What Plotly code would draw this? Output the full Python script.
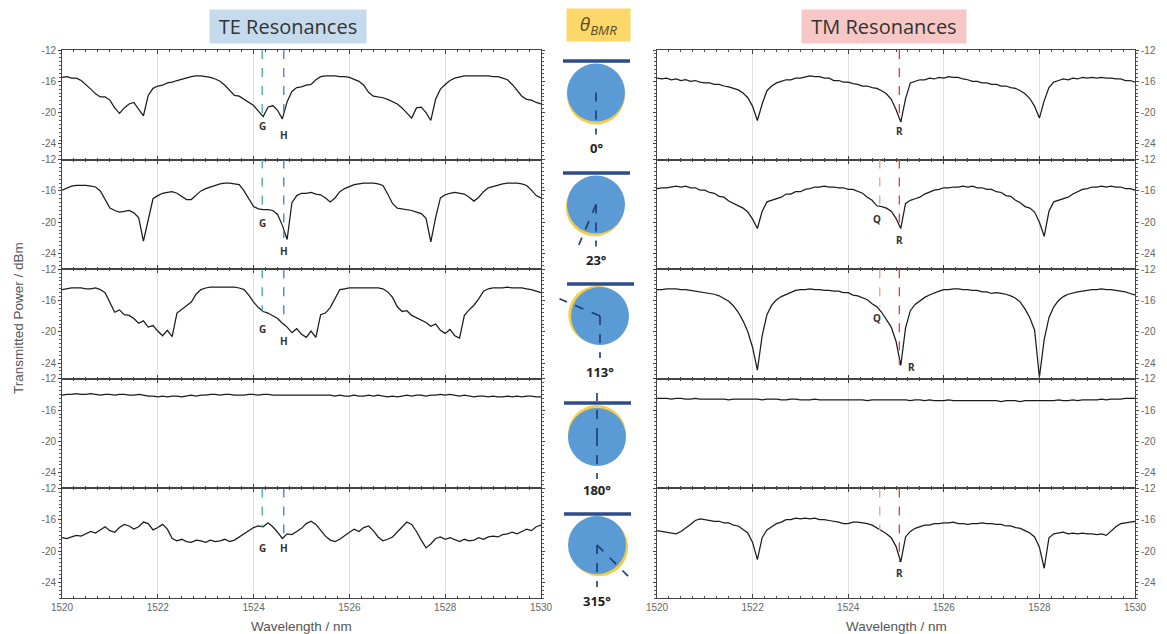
import math
import plotly.graph_objects as go

# ---------------- data ----------------
wavelength = [round(1520 + 0.1 * i, 1) for i in range(101)]

te_0 = [-15.5, -15.4, -15.6, -15.6, -15.9, -16.4, -17.0, -17.6, -18.0, -18.0,
        -18.4, -19.4, -20.1, -19.4, -18.9, -18.7, -19.5, -20.4, -17.8, -16.9,
        -16.6, -16.5, -16.2, -16.1, -15.9, -15.7, -15.5, -15.4, -15.3, -15.3,
        -15.4, -15.5, -15.7, -16.0, -16.5, -17.2, -17.8, -17.9, -18.3, -18.6,
        -19.1, -19.8, -20.5, -19.3, -19.1, -19.7, -20.8, -18.6, -17.3, -16.8,
        -16.7, -16.5, -16.4, -15.8, -15.4, -15.3, -15.3, -15.3, -15.4, -15.4,
        -15.5, -15.7, -16.0, -16.5, -17.4, -17.9, -18.0, -18.1, -18.3, -18.6,
        -18.9, -19.4, -20.1, -20.7, -19.4, -19.3, -20.0, -21.0, -18.3, -17.0,
        -16.4, -15.9, -15.6, -15.4, -15.3, -15.3, -15.3, -15.3, -15.3, -15.3,
        -15.4, -15.4, -15.6, -15.8, -16.4, -17.2, -17.9, -18.3, -18.4, -18.7,
        -18.9]

te_23 = [-15.9, -15.6, -15.4, -15.3, -15.3, -15.3, -15.4, -15.5, -16.0, -17.2,
         -18.2, -18.5, -18.7, -18.6, -18.5, -18.8, -19.4, -22.4, -19.7, -17.0,
         -16.6, -16.3, -16.2, -16.1, -16.3, -16.7, -17.1, -17.1, -16.5, -16.0,
         -15.7, -15.5, -15.3, -15.1, -15.0, -15.0, -15.1, -15.2, -16.0, -17.0,
         -18.0, -18.3, -18.4, -18.4, -18.5, -19.0, -20.4, -22.2, -17.5, -16.6,
         -16.3, -16.3, -16.2, -16.4, -16.5, -16.9, -17.4, -16.9, -16.1, -15.7,
         -15.4, -15.2, -15.1, -15.0, -15.0, -15.0, -15.1, -15.3, -16.4, -17.6,
         -18.2, -18.3, -18.4, -18.5, -18.7, -18.9, -19.5, -22.5, -19.4, -16.9,
         -16.5, -16.3, -16.2, -16.3, -16.4, -16.8, -17.3, -16.8, -16.1, -15.6,
         -15.4, -15.2, -15.1, -15.0, -15.0, -15.0, -15.1, -15.3, -15.9, -16.6,
         -16.9]

te_113 = [-14.6, -14.5, -14.4, -14.4, -14.4, -14.5, -14.5, -14.4, -14.6, -15.0,
          -16.2, -17.5, -17.2, -17.8, -17.9, -18.3, -18.9, -18.6, -19.4, -19.2,
          -19.9, -20.5, -19.8, -20.6, -17.6, -17.1, -16.6, -16.2, -15.2, -14.6,
          -14.4, -14.3, -14.3, -14.3, -14.3, -14.3, -14.3, -14.4, -14.6, -15.3,
          -16.2, -16.9, -17.4, -17.6, -17.9, -18.3, -18.9, -19.4, -20.1, -19.6,
          -20.3, -20.7, -19.9, -20.7, -17.8, -17.6, -16.9, -15.7, -14.6, -14.5,
          -14.4, -14.4, -14.4, -14.4, -14.4, -14.4, -14.4, -14.5, -14.9, -15.6,
          -16.8, -17.4, -17.3, -17.9, -18.2, -18.6, -18.8, -19.3, -19.0, -19.8,
          -20.2, -19.7, -20.5, -20.8, -17.9, -17.2, -16.6, -15.8, -14.8, -14.5,
          -14.4, -14.4, -14.4, -14.3, -14.4, -14.4, -14.4, -14.5, -14.6, -14.8,
          -15.0]

te_180 = [-14.1, -14.0, -14.0, -13.9, -14.0, -14.0, -13.9, -14.0, -14.1, -14.0,
          -14.0, -14.1, -14.0, -14.0, -14.1, -14.1, -14.0, -14.1, -14.2, -14.2,
          -14.3, -14.2, -14.3, -14.2, -14.2, -14.3, -14.2, -14.1, -14.2, -14.1,
          -14.1, -14.0, -14.0, -14.1, -14.0, -14.0, -14.1, -14.1, -14.1, -14.0,
          -14.0, -14.1, -14.0, -14.0, -14.1, -14.1, -14.1, -14.1, -14.1, -14.1,
          -14.1, -14.1, -14.1, -14.1, -14.1, -14.1, -14.1, -14.2, -14.1, -14.2,
          -14.2, -14.1, -14.2, -14.2, -14.1, -14.2, -14.1, -14.2, -14.3, -14.2,
          -14.3, -14.2, -14.1, -14.2, -14.1, -14.1, -14.2, -14.1, -14.1, -14.0,
          -14.1, -14.0, -14.1, -14.2, -14.1, -14.2, -14.3, -14.2, -14.2, -14.3,
          -14.2, -14.3, -14.3, -14.2, -14.3, -14.2, -14.3, -14.2, -14.2, -14.3,
          -14.3]

te_315 = [-18.3, -18.4, -18.2, -18.0, -18.1, -17.8, -17.5, -17.7, -17.3, -16.9,
          -17.4, -17.6, -17.0, -16.6, -16.8, -17.2, -16.9, -16.3, -16.5, -17.3,
          -17.0, -16.6, -17.2, -18.4, -18.7, -18.5, -18.8, -18.9, -18.6, -18.7,
          -18.9, -18.6, -18.8, -18.7, -18.5, -18.8, -18.6, -18.2, -17.9, -17.4,
          -17.0, -16.8, -16.9, -16.4, -16.9, -17.6, -18.4, -17.8, -17.9, -17.5,
          -17.1, -16.5, -16.2, -16.6, -17.4, -18.1, -18.6, -18.8, -18.5, -18.0,
          -17.6, -17.2, -17.5, -17.0, -16.8, -17.4, -18.2, -18.7, -18.5, -18.2,
          -17.6, -16.9, -16.3, -16.6, -17.5, -18.6, -19.6, -19.1, -18.4, -18.2,
          -18.5, -18.3, -18.6, -18.8, -18.5, -18.7, -18.6, -18.3, -18.5, -18.2,
          -18.1, -18.2, -17.9, -17.8, -17.6, -17.8, -17.5, -17.2, -17.4, -16.9,
          -16.7]

tm_0 = [-15.6, -15.7, -15.6, -15.8, -15.7, -15.9, -15.8, -16.0, -15.9, -16.1,
        -16.2, -16.2, -16.4, -16.4, -16.6, -16.7, -16.9, -17.1, -17.5, -18.1,
        -19.2, -21.0, -18.9, -17.2, -16.6, -16.2, -16.0, -15.8, -15.8, -15.6,
        -15.6, -15.4, -15.3, -15.4, -15.4, -15.6, -15.6, -15.9, -15.9, -16.1,
        -16.1, -16.3, -16.4, -16.6, -16.6, -16.8, -16.9, -17.2, -17.6, -18.3,
        -19.6, -21.2, -18.2, -16.2, -16.0, -15.8, -15.8, -15.6, -15.7, -15.5,
        -15.6, -15.4, -15.5, -15.5, -15.7, -15.8, -16.0, -16.0, -16.2, -16.2,
        -16.4, -16.4, -16.6, -16.6, -16.8, -16.9, -17.2, -17.6, -18.2, -19.2,
        -20.7, -18.5, -16.8, -16.1, -15.9, -15.7, -15.8, -15.6, -15.7, -15.5,
        -15.6, -15.5, -15.6, -15.5, -15.6, -15.6, -15.7, -15.7, -15.9, -15.9,
        -16.1]

tm_23 = [-15.7, -15.6, -15.6, -15.5, -15.4, -15.5, -15.4, -15.6, -15.6, -15.9,
         -15.9, -16.2, -16.3, -16.7, -16.8, -17.3, -17.6, -18.0, -18.2, -18.7,
         -19.6, -20.8, -18.6, -17.4, -17.2, -17.0, -16.8, -16.4, -16.4, -16.1,
         -16.1, -15.8, -15.7, -15.5, -15.5, -15.4, -15.5, -15.5, -15.6, -15.6,
         -15.8, -15.8, -16.1, -16.3, -16.8, -17.2, -17.9, -18.0, -18.2, -18.6,
         -19.5, -20.8, -17.6, -17.2, -17.0, -16.8, -16.4, -16.2, -15.9, -15.8,
         -15.6, -15.6, -15.5, -15.5, -15.4, -15.5, -15.4, -15.6, -15.6, -15.8,
         -15.8, -16.1, -16.2, -16.6, -16.7, -17.2, -17.5, -18.0, -18.2, -18.7,
         -20.0, -21.8, -18.6, -17.4, -17.2, -17.0, -16.8, -16.4, -16.1, -15.8,
         -15.7, -15.5, -15.5, -15.4, -15.5, -15.4, -15.5, -15.5, -15.7, -15.7,
         -15.9]

tm_113 = [-14.6, -14.6, -14.5, -14.5, -14.5, -14.6, -14.6, -14.7, -14.8, -14.9,
          -15.0, -15.1, -15.2, -15.4, -15.7, -16.1, -16.7, -17.5, -18.6, -20.0,
          -22.0, -24.9, -20.5, -17.8, -16.6, -15.9, -15.5, -15.2, -14.9, -14.7,
          -14.6, -14.6, -14.5, -14.6, -14.6, -14.7, -14.7, -14.8, -14.8, -15.0,
          -15.0, -15.3, -15.4, -15.7, -15.9, -16.4, -16.8, -17.5, -18.4, -19.4,
          -21.2, -24.3, -19.5, -17.3, -16.5, -16.0, -15.6, -15.3, -15.0, -14.8,
          -14.6, -14.6, -14.5, -14.5, -14.6, -14.6, -14.7, -14.7, -14.9, -14.9,
          -15.1, -15.0, -15.1, -15.2, -15.4, -15.7, -16.2, -17.1, -18.2, -19.8,
          -25.8, -21.0, -18.2, -16.8, -16.0, -15.5, -15.2, -15.0, -14.9, -14.8,
          -14.7, -14.6, -14.6, -14.5, -14.6, -14.6, -14.7, -14.8, -14.9, -15.1,
          -15.3]

tm_180 = [-14.5, -14.5, -14.5, -14.6, -14.5, -14.5, -14.6, -14.6, -14.5, -14.6,
          -14.6, -14.6, -14.6, -14.6, -14.6, -14.7, -14.6, -14.6, -14.6, -14.6,
          -14.6, -14.6, -14.7, -14.6, -14.6, -14.6, -14.7, -14.7, -14.6, -14.6,
          -14.7, -14.7, -14.7, -14.6, -14.7, -14.7, -14.7, -14.7, -14.7, -14.7,
          -14.7, -14.7, -14.7, -14.7, -14.8, -14.7, -14.7, -14.7, -14.7, -14.7,
          -14.7, -14.7, -14.7, -14.8, -14.7, -14.7, -14.8, -14.7, -14.8, -14.8,
          -14.8, -14.7, -14.8, -14.8, -14.8, -14.8, -14.8, -14.8, -14.8, -14.8,
          -14.8, -14.8, -14.9, -14.8, -14.8, -14.8, -14.9, -14.8, -14.8, -14.8,
          -14.8, -14.8, -14.8, -14.8, -14.7, -14.8, -14.8, -14.7, -14.8, -14.7,
          -14.7, -14.7, -14.7, -14.6, -14.7, -14.6, -14.6, -14.6, -14.5, -14.5,
          -14.5]

tm_315 = [-17.4, -17.5, -17.6, -17.7, -17.8, -17.5, -17.1, -16.6, -16.1, -15.9,
          -16.0, -16.1, -16.2, -16.2, -16.4, -16.4, -16.7, -16.8, -17.2, -17.7,
          -18.9, -21.1, -18.3, -17.3, -16.9, -16.5, -16.3, -16.0, -16.0, -15.8,
          -15.9, -15.8, -15.9, -15.8, -16.0, -16.0, -16.1, -16.2, -16.3, -16.5,
          -16.5, -16.3, -16.3, -16.4, -16.5, -16.7, -17.0, -17.4, -17.8, -18.3,
          -19.4, -21.4, -18.2, -17.5, -17.1, -16.9, -16.7, -16.7, -16.5, -16.5,
          -16.4, -16.4, -16.3, -16.5, -16.5, -16.6, -16.5, -16.5, -16.4, -16.5,
          -16.5, -16.6, -16.6, -16.8, -16.8, -17.0, -17.1, -17.4, -17.7, -18.2,
          -19.5, -22.2, -18.3, -17.8, -17.7, -17.6, -17.8, -17.7, -17.8, -17.7,
          -17.8, -17.8, -17.9, -17.8, -18.0, -17.4, -16.9, -16.5, -16.4, -16.3,
          -16.2]

te_series = [te_0, te_23, te_113, te_180, te_315]
tm_series = [tm_0, tm_23, tm_113, tm_180, tm_315]

angles = [0, 23, 113, 180, 315]
angle_labels = ["0°", "23°", "113°", "180°", "315°"]

y_ticks = [-12, -16, -20, -24]
y_tick_text = ["-12", "-16", "-20", "-24"]
x_ticks = [1520, 1522, 1524, 1526, 1528, 1530]

# resonance markers (wavelength, line end, label position)
te_G_wl, te_H_wl = 1524.18, 1524.63
te_G_end = [-20.5, -18.4, -17.5, None, -17.0]
te_H_end = [-20.8, -22.0, -19.0, None, -18.0]
te_G_lab = [-21.7, -20.1, -19.6, None, -19.6]
te_H_lab = [-22.9, -23.7, -21.2, None, -19.6]

tm_Q_wl, tm_R_wl = 1524.66, 1525.07
tm_Q_end = [None, -18.0, -16.8, None, -17.3]
tm_R_end = [-21.2, -20.8, -24.2, None, -21.4]
tm_Q_lab = [None, -19.6, -18.2, None, None]
tm_R_lab = [-22.3, -22.3, -24.5, None, -22.8]
tm_R_lab_x = [1525.07, 1525.07, 1525.32, None, 1525.07]

# ---------------- layout geometry (screen pixels) ----------------
OFF = 8                      # page body margin of the html page
W, H = 1167 - OFF, 634 - OFF  # figure size
LEFT = (62, 541)
RIGHT = (657, 1135)
TOP, PH = 50, 109.6


def px(x):
    return (x - OFF) / W


def py(y):
    return 1 - (y - OFF) / H


def note(x, y, text, font, **kw):
    d = dict(xref="paper", yref="paper", x=px(x), y=py(y), text=text, showarrow=False,
             xanchor="center", yanchor="middle", font=font)
    d.update(kw)
    return d


fig = go.Figure()
layout = dict(
    width=W, height=H, margin=dict(l=0, r=0, t=0, b=0, autoexpand=False),
    paper_bgcolor="white", plot_bgcolor="white", showlegend=False,
)

tick_font = dict(family="Liberation Sans, Arial, sans-serif", size=10, color="#666")
shapes = []
annotations = []

for i in range(5):
    y0 = py(TOP + (i + 1) * PH)
    y1 = py(TOP + i * PH)
    for side, (xl, xr), series in (("L", LEFT, te_series), ("R", RIGHT, tm_series)):
        k = 2 * i + (1 if side == "L" else 2)
        xn = "x" if k == 1 else f"x{k}"
        yn = "y" if k == 1 else f"y{k}"
        xkey = "xaxis" if k == 1 else f"xaxis{k}"
        ykey = "yaxis" if k == 1 else f"yaxis{k}"
        layout[xkey] = dict(
            domain=[px(xl), px(xr)], range=[1520, 1530], anchor=yn, automargin=False,
            showline=True, linecolor="#444", linewidth=1, mirror="ticks",
            ticks="inside", ticklen=4, tickcolor="#444", tickvals=x_ticks,
            showgrid=True, gridcolor="#e2e2e2", gridwidth=1, zeroline=False,
            showticklabels=(i == 4), tickfont=tick_font,
            minor=dict(dtick=0.25, tick0=1520, ticks="inside", ticklen=2,
                       tickcolor="#444", showgrid=False),
        )
        layout[ykey] = dict(
            domain=[y0, y1], range=[-26, -12], anchor=xn, automargin=False,
            side="left" if side == "L" else "right",
            showline=True, linecolor="#444", linewidth=1, mirror="ticks",
            ticks="outside", ticklen=3, tickcolor="#444",
            tickvals=y_ticks, ticktext=y_tick_text, tickfont=tick_font,
            showgrid=False, zeroline=False,
            minor=dict(dtick=0.5, tick0=-12, ticks="outside", ticklen=2,
                       tickcolor="#555", showgrid=False),
        )
        fig.add_trace(go.Scatter(
            x=wavelength, y=series[i], mode="lines",
            line=dict(color="#1c1c1c", width=1.25),
            xaxis=xn, yaxis=yn, hoverinfo="skip",
        ))

        lab_font = dict(family="Noto Sans, Arial", size=10, color="#333")
        if side == "L" and te_G_end[i] is not None:
            for wl, end, lab, txt, col in ((te_G_wl, te_G_end[i], te_G_lab[i], "G", "#45a8a2"),
                                           (te_H_wl, te_H_end[i], te_H_lab[i], "H", "#3a7cc6")):
                shapes.append(dict(type="line", xref=xn, yref=yn, x0=wl, x1=wl, y0=-12, y1=end,
                                   line=dict(color=col, width=1.3, dash="dash")))
                annotations.append(dict(xref=xn, yref=yn, x=wl, y=lab, text=f"<b>{txt}</b>",
                                        showarrow=False, xanchor="center", yanchor="middle",
                                        font=lab_font))
        if side == "R" and tm_R_end[i] is not None:
            if tm_Q_end[i] is not None:
                shapes.append(dict(type="line", xref=xn, yref=yn, x0=tm_Q_wl, x1=tm_Q_wl, y0=-12,
                                   y1=tm_Q_end[i], line=dict(color="#f4a07c", width=1.3, dash="dash")))
                if tm_Q_lab[i] is not None:
                    annotations.append(dict(xref=xn, yref=yn, x=tm_Q_wl - 0.05, y=tm_Q_lab[i],
                                            text="<b>Q</b>", showarrow=False, xanchor="center",
                                            yanchor="middle", font=lab_font))
            shapes.append(dict(type="line", xref=xn, yref=yn, x0=tm_R_wl, x1=tm_R_wl, y0=-12,
                               y1=tm_R_end[i], line=dict(color="#e8363c", width=1.3, dash="dash")))
            annotations.append(dict(xref=xn, yref=yn, x=tm_R_lab_x[i], y=tm_R_lab[i],
                                    text="<b>R</b>", showarrow=False, xanchor="center",
                                    yanchor="middle", font=lab_font))

# axis titles
axis_font = dict(family="Liberation Sans, Arial", size=13.5, color="#555")
for cx in ((LEFT[0] + LEFT[1]) / 2, (RIGHT[0] + RIGHT[1]) / 2):
    annotations.append(note(cx, 626, "Wavelength / nm", axis_font))
annotations.append(note(18, 318, "Transmitted Power / dBm", axis_font, textangle=-90))

# ---------------- middle diagrams ----------------
diag_cx = [596, 596, 600, 597, 597]
diag_cy = [92.5, 204.5, 316, 437, 545]
diag_line_y = [61, 173, 284, 403, 514]
diag_label_y = [148, 260, 372, 490, 601]
R_C = 29

for i, ang in enumerate(angles):
    cx, cy = diag_cx[i], diag_cy[i]
    dx, dy = -math.sin(math.radians(ang)), math.cos(math.radians(ang))
    ox, oy = cx + 3 * dx, cy + 3 * dy
    shapes.append(dict(type="circle", xref="paper", yref="paper",
                       x0=px(ox - R_C), x1=px(ox + R_C), y0=py(oy + R_C), y1=py(oy - R_C),
                       fillcolor="#f5cd4a", line=dict(width=0), layer="above"))
    shapes.append(dict(type="circle", xref="paper", yref="paper",
                       x0=px(cx - R_C), x1=px(cx + R_C), y0=py(cy + R_C), y1=py(cy - R_C),
                       fillcolor="#5b9bd5", line=dict(width=0), layer="above"))
    shapes.append(dict(type="line", xref="paper", yref="paper",
                       x0=px(cx - 33), x1=px(cx + 34), y0=py(diag_line_y[i]), y1=py(diag_line_y[i]),
                       line=dict(color="#2e4b8b", width=3.5), layer="above"))
    L = R_C + 13
    shapes.append(dict(type="line", xref="paper", yref="paper",
                       x0=px(cx), x1=px(cx), y0=py(cy), y1=py(cy + L),
                       line=dict(color="#1f3a6e", width=1.6, dash="dash"), layer="above"))
    if ang != 0:
        shapes.append(dict(type="line", xref="paper", yref="paper",
                           x0=px(cx), x1=px(cx + (L + 2) * dx), y0=py(cy), y1=py(cy + (L + 2) * dy),
                           line=dict(color="#1f3a6e", width=1.6, dash="dash"), layer="above"))
    annotations.append(note(cx, diag_label_y[i], f"<b>{angle_labels[i]}</b>",
                            dict(family="Open Sans, Noto Sans", size=13, color="#222")))

# ---------------- titles ----------------
title_font = dict(family="Open Sans, Noto Sans", size=20, color="#333")
annotations.append(note(288, 26, "TE Resonances", title_font, bgcolor="#c6daee",
                        borderpad=2, width=152, height=29))
annotations.append(note(884, 26, "TM Resonances", title_font, bgcolor="#f6c7c5",
                        borderpad=2, width=160, height=29))
annotations.append(note(598, 25, "<i>θ<sub>BMR</sub></i>",
                        dict(family="Open Sans, Noto Sans", size=19, color="#5a4a20"),
                        bgcolor="#fcd86a", borderpad=2, width=59, height=28))

layout["shapes"] = shapes
layout["annotations"] = annotations
fig.update_layout(**layout)
fig.write_html("out.html")
